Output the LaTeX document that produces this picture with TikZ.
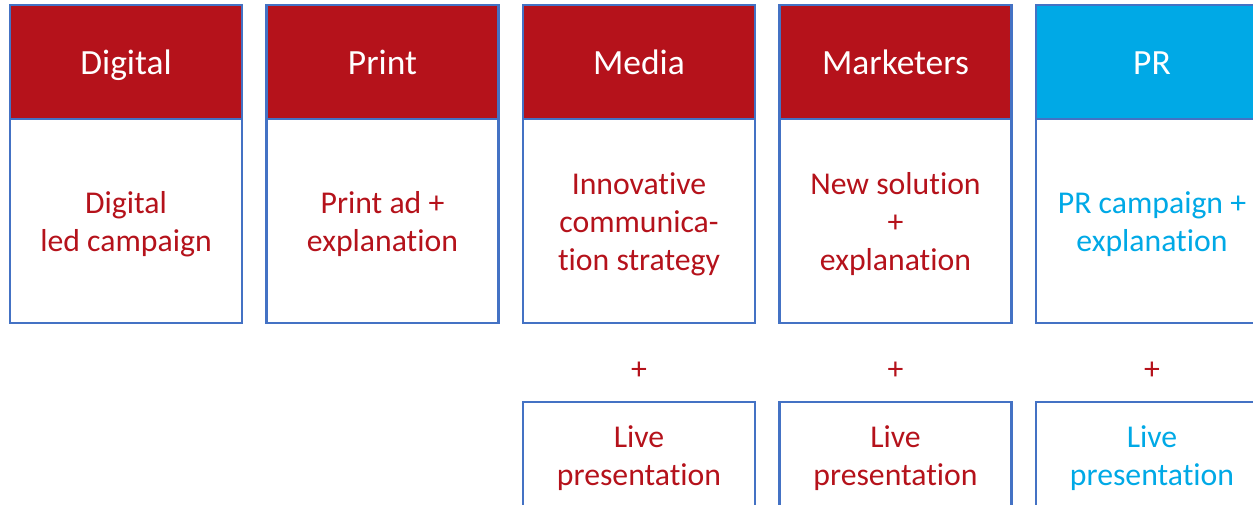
\documentclass[tikz,border=0pt]{standalone}
\usepackage{fontspec}
\setmainfont{Carlito}[Ligatures=NoCommon]
\definecolor{hdred}{HTML}{B5121B}
\definecolor{hdcyan}{HTML}{00A9E6}
\definecolor{edgeblue}{HTML}{4472C4}
\begin{document}
\begin{tikzpicture}[x=0.75pt,y=-0.75pt,
  box/.style={draw=edgeblue, line width=1.9pt, minimum width=174pt, inner sep=0pt},
  head/.style={box, minimum height=85.5pt, text=white,
    text height=20pt, text depth=0.5pt, font=\fontsize{26.6}{32}\selectfont},
  body/.style={box, fill=white, minimum height=153pt},
  live/.style={box, minimum height=79.5pt},
  txt/.style={inner sep=0pt, align=center, yshift=-2.3pt,
    font=\fontsize{23.8}{28.6}\selectfont},
  plus/.style={txt, text=hdred, yshift=0pt}]
\useasboundingbox (0,0) rectangle (1253,505);
\clip (0,0) rectangle (1253,505);

% body boxes
\node[body] (b1) at (126,221)   {};
\node[body] (b2) at (382.5,221) {};
\node[body] (b3) at (639,221)   {};
\node[body] (b4) at (895.5,221) {};
\node[body] (b5) at (1152,221)  {};

% body texts
\node[txt, text=hdred]  (b1t) at (b1.center) {Digital\\led campaign};
\node[txt, text=hdred]  (b2t) at (b2.center) {Print ad +\\explanation};
\node[txt, text=hdred]  (b3t) at (b3.center) {Innovative\\communica-\\tion strategy};
\node[txt, text=hdred]  (b4t) at (b4.center) {New solution\\+\\explanation};
\node[txt, text=hdcyan] (b5t) at (b5.center) {PR campaign +\\explanation};

% headers
\node[head, fill=hdred]  (h1) at (126,62)   {Digital};
\node[head, fill=hdred]  (h2) at (382.5,62) {Print};
\node[head, fill=hdred]  (h3) at (639,62)   {Media};
\node[head, fill=hdred]  (h4) at (895.5,62) {Marketers};
\node[head, fill=hdcyan] (h5) at (1152,62)  {PR};

% plus signs
\node[plus] (p3) at (639,368)   {+};
\node[plus] (p4) at (895.5,368) {+};
\node[plus] (p5) at (1152,368)  {+};

% live presentation boxes
\node[live] (l3) at (639,455)   {};
\node[live] (l4) at (895.5,455) {};
\node[live] (l5) at (1152,455)  {};
\node[txt, text=hdred]  (l3t) at (l3.center) {Live\\presentation};
\node[txt, text=hdred]  (l4t) at (l4.center) {Live\\presentation};
\node[txt, text=hdcyan] (l5t) at (l5.center) {Live\\presentation};
\end{tikzpicture}
\end{document}
